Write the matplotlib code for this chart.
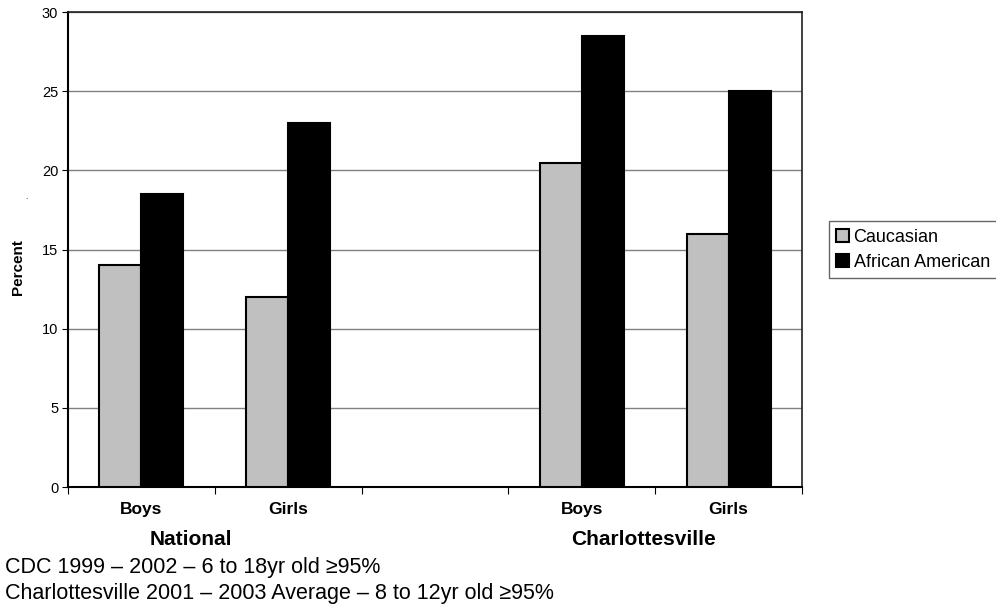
import numpy as np
import matplotlib.pyplot as plt

plt.rcParams['font.family'] = ['Liberation Sans', 'DejaVu Sans']

# prevalence of overweight, percent
categories = ['Boys', 'Girls', '', 'Boys', 'Girls']
caucasian = [14, 12, np.nan, 20.5, 16]
african_american = [18.5, 23, np.nan, 28.5, 25]
groups = ['National', 'Charlottesville']
notes = ['CDC 1999 \u2013 2002 \u2013 6 to 18yr old \u226595%',
         'Charlottesville 2001 \u2013 2003 Average \u2013 8 to 12yr old \u226595%']

fig = plt.figure(figsize=(9.96, 6.08), dpi=100)
ax = fig.add_axes([0.0683, 0.199, 0.7369, 0.781])

x = np.arange(len(categories))
w = 1 / 3.5
ax.bar(x - w / 2, caucasian, w, color='#c0c0c0', edgecolor='black',
       linewidth=1.5, label='Caucasian', zorder=3)
ax.bar(x + w / 2, african_american, w, color='black', edgecolor='black',
       linewidth=1.5, label='African American', zorder=3)

ax.set_xlim(-0.5, len(categories) - 0.5)
ax.set_ylim(0, 30)
ax.set_yticks(range(0, 31, 5))
ax.tick_params(axis='y', labelsize=10.5, length=4, direction='out', pad=3)
ax.yaxis.grid(True, color='#808080', linewidth=1, zorder=0)

# category labels between boundary ticks
ax.set_xticks(np.arange(-0.5, len(categories), 1))
ax.set_xticklabels([])
ax.tick_params(axis='x', length=5, direction='out')
for xi, lab in zip(x, categories):
    ax.text(xi, -1.4, lab, ha='center', va='center', fontsize=12.5,
            fontweight='bold')
for xi, lab in zip([0.34, 3.42], groups):
    ax.text(xi, -3.3, lab, ha='center', va='center', fontsize=15,
            fontweight='bold')

for side in ['left', 'bottom']:
    ax.spines[side].set_linewidth(1.5)
for side in ['top', 'right']:
    ax.spines[side].set_linewidth(1.2)
    ax.spines[side].set_color('#202020')

fig.text(0.018, 0.56, 'Percent', rotation=90, ha='center', va='center',
         fontsize=11, fontweight='bold')
fig.text(0.027, 0.675, '.', ha='center', va='center', fontsize=6)

leg = ax.legend(loc='center left', bbox_to_anchor=(1.037, 0.5), fontsize=13,
                frameon=True, fancybox=False, edgecolor='#404040',
                borderaxespad=0, handlelength=0.7, handleheight=0.7,
                handletextpad=0.25, borderpad=0.4, labelspacing=0.45)
leg.get_frame().set_linewidth(1)

for i, line in enumerate(notes):
    fig.text(0.005, 0.066 - i * 0.042, line, ha='left', va='center',
             fontsize=15.5)

fig.savefig('out.png', dpi=100)
